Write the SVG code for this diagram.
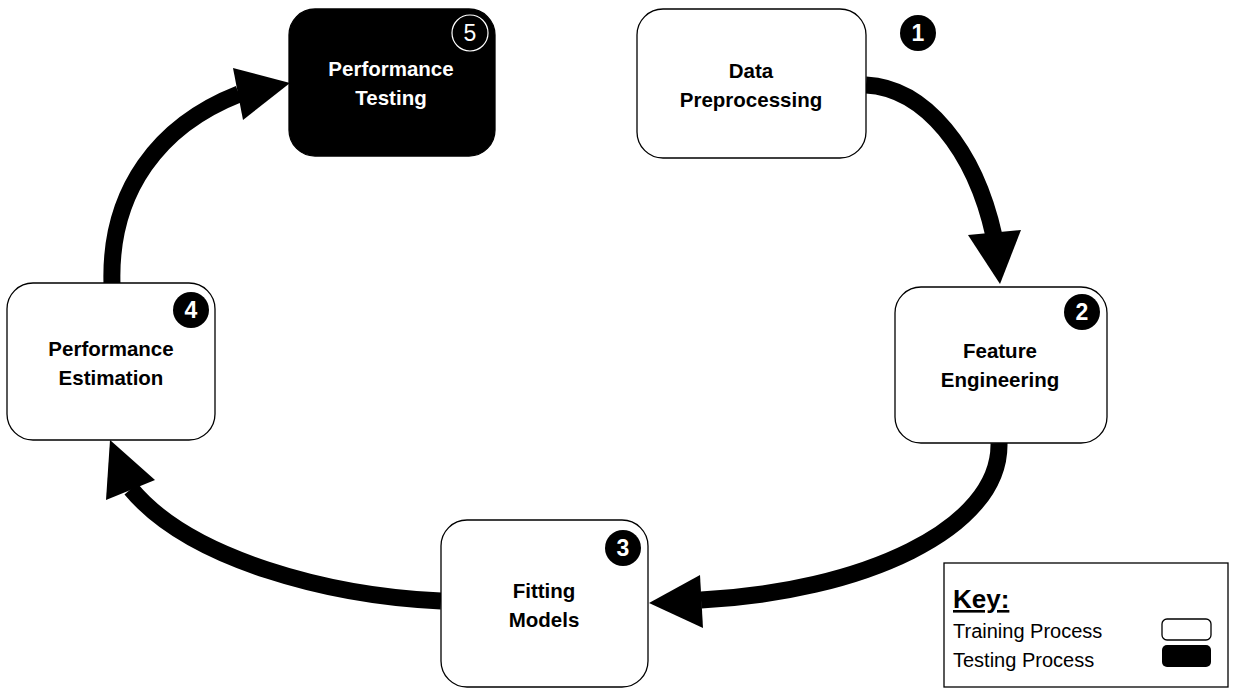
<svg xmlns="http://www.w3.org/2000/svg" width="1234" height="694" viewBox="0 0 1234 694">
<style>
.box{fill:#fff;stroke:#000;stroke-width:1.3}
.dark{fill:#000;stroke:#000;stroke-width:1.3}
.lbl{font-family:"Liberation Sans",Arial,sans-serif;font-weight:bold;font-size:20.5px;text-anchor:middle;fill:#000}
.lblw{fill:#fff}
.badge{fill:#000}
.bnum{font-family:"Liberation Sans",Arial,sans-serif;font-weight:bold;font-size:23px;text-anchor:middle;fill:#fff}
.shaft{fill:none;stroke:#000;stroke-width:17}
.head{fill:#000}
.key{font-family:"Liberation Sans",Arial,sans-serif;font-size:20px;fill:#000}
</style>
<rect width="1234" height="694" fill="#fff"/>
<g id="connectors">
<path class="shaft" d="M866,85 C925,88 975,150 994,236"/>
<polygon class="head" points="968,235 1021,230 1000,284"/>
<path class="shaft" d="M999,443 C1001,530 860,592 701,600"/>
<polygon class="head" points="700,575 703,628 649,603"/>
<path class="shaft" d="M441,601 C330,596 190,560 131,489"/>
<polygon class="head" points="106,500 155,480 110,440"/>
<path class="shaft" d="M112,284 C109,190 160,125 239,94"/>
<polygon class="head" points="233,68 243,120 290,83"/>
</g>
<g id="node1">
<rect class="box" x="637" y="9" width="229" height="149" rx="26"/>
<text class="lbl" x="751" y="78">Data</text>
<text class="lbl" x="751" y="107">Preprocessing</text>
<circle class="badge" cx="918" cy="33" r="18"/>
<text class="bnum" x="918" y="41">1</text>
</g>
<g id="node2">
<rect class="box" x="895" y="287" width="212" height="156" rx="26"/>
<text class="lbl" x="1000" y="358">Feature</text>
<text class="lbl" x="1000" y="387">Engineering</text>
<circle class="badge" cx="1082" cy="312" r="18"/>
<text class="bnum" x="1082" y="320">2</text>
</g>
<g id="node3">
<rect class="box" x="441" y="520" width="207" height="167" rx="26"/>
<text class="lbl" x="544" y="598">Fitting</text>
<text class="lbl" x="544" y="627">Models</text>
<circle class="badge" cx="623" cy="548" r="18"/>
<text class="bnum" x="623" y="556">3</text>
</g>
<g id="node4">
<rect class="box" x="7" y="283" width="208" height="157" rx="26"/>
<text class="lbl" x="111" y="356">Performance</text>
<text class="lbl" x="111" y="385">Estimation</text>
<circle class="badge" cx="191" cy="310" r="18"/>
<text class="bnum" x="191" y="318">4</text>
</g>
<g id="node5">
<rect class="dark" x="289" y="9" width="206" height="147" rx="26"/>
<text class="lbl lblw" x="391" y="76">Performance</text>
<text class="lbl lblw" x="391" y="105">Testing</text>
<circle cx="470" cy="33" r="18" fill="#000" stroke="#fff" stroke-width="1.2"/>
<text class="bnum" x="470" y="41" style="font-weight:normal">5</text>
</g>
<g id="legend">
<rect x="944" y="563" width="284" height="124" fill="#fff" stroke="#000" stroke-width="1.3"/>
<text class="key" x="953" y="608" style="font-size:26px;font-weight:bold;text-decoration:underline">Key:</text>
<text class="key" x="953" y="638">Training Process</text>
<text class="key" x="953" y="667">Testing Process</text>
<rect x="1162" y="619" width="49" height="21" rx="5" fill="#fff" stroke="#000" stroke-width="1.3"/>
<rect x="1162" y="645" width="49" height="22" rx="5" fill="#000"/>
</g>
</svg>
